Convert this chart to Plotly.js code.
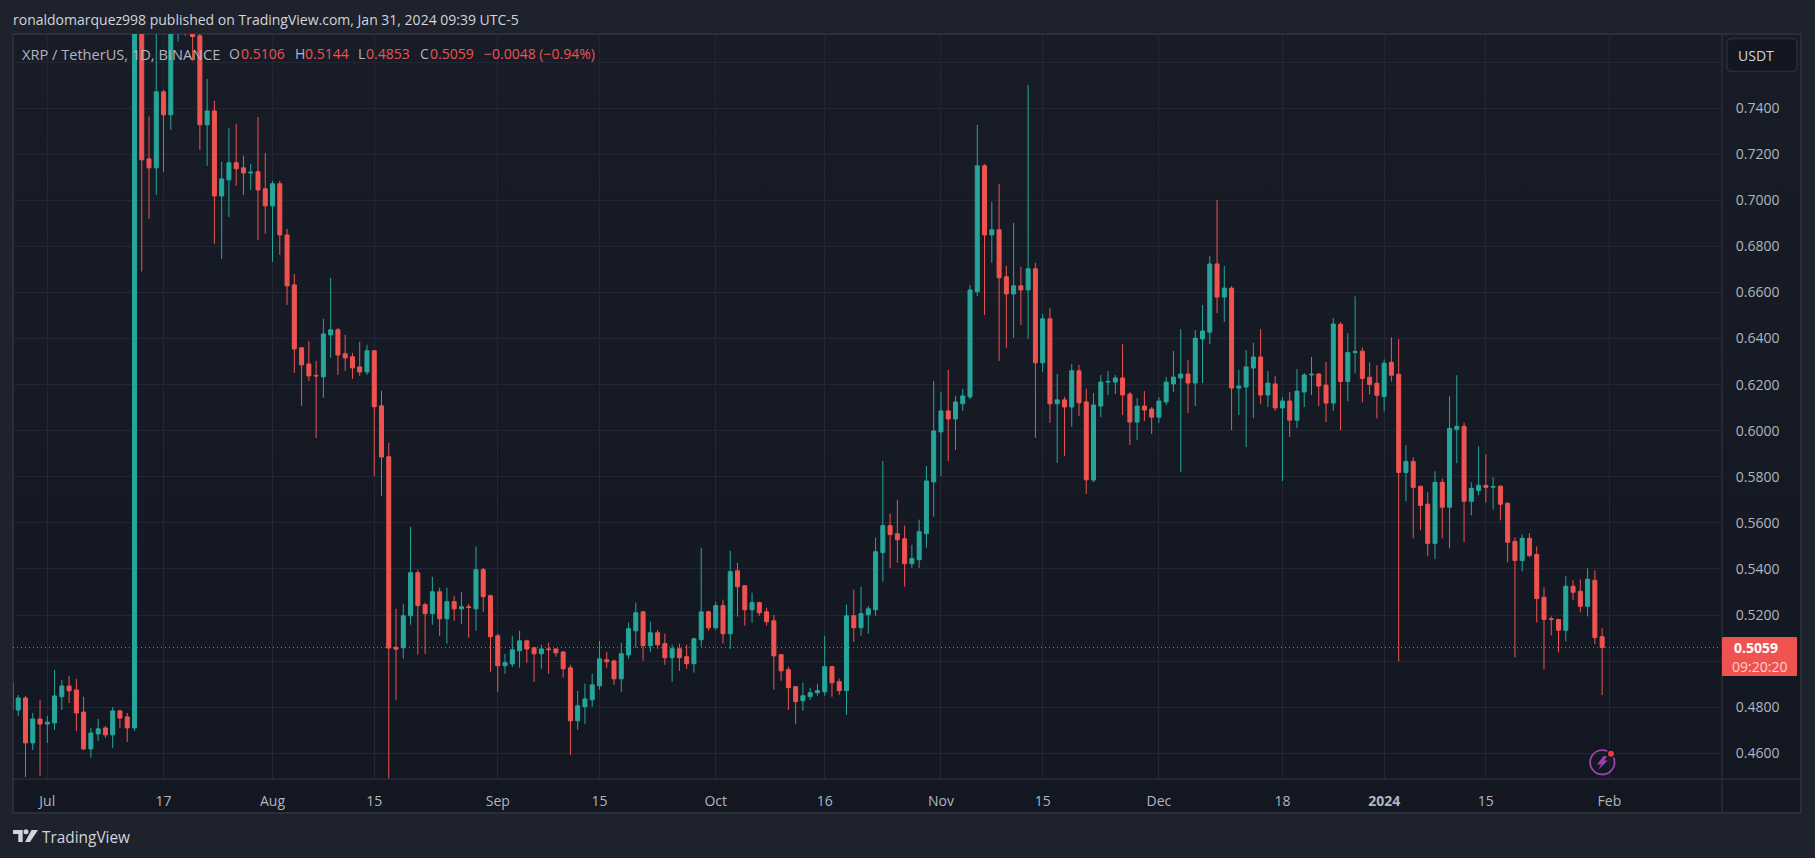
<!DOCTYPE html>
<html>
<head>
<meta charset="utf-8">
<title>XRP / TetherUS</title>
<script src="https://cdn.plot.ly/plotly-3.0.0.min.js"></script>
<style>
html,body{margin:0;padding:0;width:1815px;height:858px;overflow:hidden;background:#1e222d;}
#panel{position:absolute;left:12px;top:33px;width:1790px;height:781px;box-sizing:border-box;border:2px solid #2a2e39;background:linear-gradient(to bottom,#181c27 0%,#131722 100%);}
#chart{position:absolute;left:0;top:0;width:1815px;height:858px;}
</style>
</head>
<body>
<div id="panel"></div>
<div id="chart"></div>
<script>
const firstDate = '2023-06-26';
const opens = [
 .4907,.4788,.4840,.4645,.4749,
 .4727,.4732,.4845,.4892,.4875,.4779,.4619,.4684,.4710,.4680,.4784,.4758,.4710,.8100,.7180,.7141,.7471,.7371,.7900,.8000,.7800,.7714,.7328,.7388,.7019,.7089,.7163,.7141,.7119,.7124,.7050,
 .6976,.7072,.6850,.6633,.6360,.6290,.6240,.6234,.6416,.6438,.6334,.6321,.6277,.6255,.6347,.6108,.5887,.5060,.5058,.5197,.5384,.5245,.5206,.5301,.5184,.5258,.5227,.5236,.5227,.5397,.5284,
 .5110,.4980,.4988,.5045,.5088,.5058,.5032,.5053,.5053,.5040,.4971,.4741,.4802,.4832,.4893,.5006,.5001,.4923,.5027,.5132,.5214,.5067,.5123,.5076,.5015,.5054,.5019,.4989,.5093,.5214,
 .5145,.5241,.5119,.5392,.5327,.5223,.5254,.5214,.5175,.5028,.4963,.4889,.4828,.4846,.4863,.4867,.4976,.4911,.4872,.5197,.5145,.5201,.5223,.5471,.5588,.5553,.5531,.5423,.5440,.5553,.5778,
 .5995,.6086,.6051,.6117,.6147,.6603,.7150,.6850,.6872,.6668,.6594,.6629,.6611,.6703,.6295,.6486,.6117,.6134,.6103,.6260,.6125,.5786,.6107,.6211,.6211,.6229,.6159,.6038,.6107,.6094,
 .6059,.6125,.6203,.6229,.6246,.6207,.6398,.6428,.6724,.6580,.6619,.6185,.6190,.6272,.6320,.6155,.6203,.6099,.6129,.6046,.6168,.6242,.6246,.6198,.6120,.6462,.6214,.6340,.6345,.6232,.6206,
 .6149,.6297,.6245,.5819,.5867,.5759,.5681,.5511,.5776,.5668,.6006,.6019,.5694,.5741,.5763,.5755,.5759,.5685,.5520,.5437,.5533,.5463,.5277,.5184,.5181,.5134,.5325,.5303,.5238,.5351,.5106
];
const highs = [
 .4907,.4853,.4849,.4775,.4832,
 .4762,.4962,.4918,.4936,.4923,.4845,.4710,.4749,.4719,.4801,.4788,.4775,.9300,.8200,.7364,.7800,.7480,.8000,.8200,.8200,.7900,.7800,.7527,.7432,.7167,.7315,.7332,.7193,.7158,.7362,.7206,
 .7085,.7085,.6876,.6681,.6362,.6390,.6303,.6486,.6663,.6446,.6416,.6338,.6386,.6373,.6351,.6173,.5948,.5227,.5249,.5583,.5397,.5254,.5366,.5319,.5319,.5284,.5301,.5249,.5497,.5405,.5288,
 .5119,.5032,.5110,.5132,.5093,.5062,.5071,.5080,.5055,.5042,.4984,.4871,.4902,.4945,.5088,.5040,.5006,.5080,.5167,.5254,.5216,.5171,.5136,.5119,.5071,.5076,.5071,.5102,.5492,.5219,
 .5258,.5267,.5479,.5427,.5329,.5297,.5258,.5232,.5201,.5030,.4976,.4891,.4906,.4885,.4902,.5110,.4980,.4924,.5245,.5310,.5323,.5240,.5536,.5869,.5640,.5700,.5588,.5505,.5614,.5847,.6216,
 .6169,.6264,.6151,.6182,.6633,.7328,.7158,.6993,.7072,.6716,.6902,.6711,.7501,.6729,.6507,.6533,.6247,.6147,.6290,.6286,.6182,.6164,.6242,.6259,.6242,.6376,.6168,.6142,.6172,.6103,
 .6146,.6233,.6346,.6441,.6307,.6437,.6546,.6758,.7001,.6715,.6628,.6263,.6350,.6381,.6441,.6259,.6237,.6146,.6168,.6268,.6250,.6320,.6250,.6298,.6489,.6471,.6423,.6583,.6362,.6297,.6284,
 .6310,.6405,.6397,.5937,.5885,.5762,.5733,.5824,.5793,.6149,.6241,.6036,.5776,.5932,.5898,.5798,.5763,.5689,.5537,.5550,.5555,.5498,.5320,.5194,.5183,.5368,.5351,.5355,.5403,.5394,.5144
];
const lows = [
 .4788,.4762,.4497,.4614,.4502,
 .4645,.4701,.4788,.4818,.4697,.4614,.4580,.4654,.4667,.4623,.4710,.4649,.4697,.6691,.6920,.7024,.7124,.7306,.7689,.7715,.7605,.7219,.7150,.6811,.6746,.6928,.7063,.7024,.7045,.6828,.6855,
 .6733,.6763,.6546,.6251,.6108,.6216,.5969,.6143,.6316,.6242,.6260,.6225,.6238,.6242,.5804,.5718,.4480,.4832,.5010,.5158,.5028,.5032,.5158,.5110,.5076,.5175,.5162,.5102,.5132,.5214,.4954,
 .4867,.4945,.4975,.4971,.4993,.4910,.4967,.4945,.5019,.4928,.4593,.4702,.4728,.4802,.4876,.4971,.4897,.4867,.5010,.5058,.5002,.5040,.5054,.4984,.4911,.4958,.4967,.4950,.5063,.5132,
 .5136,.5076,.5054,.5193,.5154,.5167,.5197,.5154,.4876,.4915,.4789,.4728,.4785,.4832,.4850,.4850,.4845,.4854,.4767,.5084,.5110,.5119,.5197,.5345,.5405,.5427,.5323,.5405,.5405,.5492,.5627,
 .5804,.5869,.5917,.6086,.6138,.6585,.6503,.6729,.6303,.6360,.6403,.6459,.6399,.5969,.6255,.6034,.5860,.5891,.6017,.6064,.5726,.5777,.6059,.6155,.6159,.6068,.5938,.5960,.6042,.5986,
 .6033,.6112,.6168,.5821,.6077,.6107,.6207,.6376,.6511,.6472,.6003,.6068,.5929,.6055,.6116,.6103,.6086,.5782,.5973,.6012,.6103,.6155,.6107,.6038,.6086,.6002,.6128,.6249,.6123,.6158,.6054,
 .6084,.6214,.4999,.5694,.5533,.5568,.5455,.5442,.5533,.5490,.5859,.5516,.5633,.5720,.5689,.5659,.5611,.5429,.5016,.5390,.5450,.5168,.4964,.5112,.5038,.5086,.5264,.5212,.5194,.5073,.4853
];
const closes = [
 .4788,.4840,.4645,.4749,.4727,
 .4735,.4849,.4892,.4871,.4775,.4619,.4688,.4706,.4680,.4784,.4753,.4710,.8100,.7176,.7141,.7471,.7371,.7900,.8000,.7800,.7711,.7328,.7388,.7019,.7093,.7163,.7137,.7119,.7122,.7045,.6976,
 .7072,.6850,.6629,.6355,.6286,.6238,.6238,.6420,.6438,.6329,.6316,.6273,.6255,.6347,.6104,.5886,.5057,.5052,.5197,.5384,.5241,.5206,.5301,.5184,.5258,.5227,.5236,.5233,.5397,.5280,.5106,
 .4980,.4993,.5049,.5088,.5053,.5032,.5053,.5050,.5036,.4967,.4741,.4806,.4836,.4897,.5010,.4997,.4923,.5032,.5141,.5210,.5067,.5123,.5071,.5015,.5054,.5015,.4989,.5097,.5214,.5145,
 .5241,.5119,.5388,.5323,.5223,.5254,.5210,.5171,.5023,.4958,.4885,.4824,.4850,.4863,.4872,.4976,.4906,.4872,.5197,.5145,.5206,.5227,.5475,.5588,.5549,.5527,.5423,.5445,.5562,.5782,.5999,
 .6086,.6051,.6125,.6151,.6611,.7150,.6850,.6872,.6664,.6594,.6629,.6611,.6703,.6295,.6486,.6117,.6134,.6103,.6260,.6121,.5787,.6112,.6211,.6214,.6229,.6155,.6038,.6107,.6090,.6059,
 .6129,.6211,.6233,.6246,.6207,.6402,.6433,.6724,.6580,.6619,.6185,.6194,.6277,.6320,.6155,.6207,.6099,.6129,.6046,.6172,.6242,.6245,.6194,.6120,.6463,.6214,.6340,.6343,.6227,.6201,.6154,
 .6293,.6241,.5819,.5867,.5754,.5676,.5511,.5776,.5668,.6010,.6019,.5694,.5750,.5763,.5754,.5758,.5681,.5516,.5437,.5533,.5459,.5272,.5181,.5181,.5134,.5325,.5299,.5238,.5355,.5103,.5059
];
const dates = opens.map((_, i) => new Date(Date.parse(firstDate + 'T00:00:00Z') + i * 864e5).toISOString().slice(0, 10));

const xTickVals = ['2023-07-01','2023-07-17','2023-08-01','2023-08-15','2023-09-01','2023-09-15','2023-10-01','2023-10-16','2023-11-01','2023-11-15','2023-12-01','2023-12-18','2024-01-01','2024-01-15','2024-02-01'];
const xTickText = ['Jul','17','Aug','15','Sep','15','Oct','16','Nov','15','Dec','18','<b>2024</b>','15','Feb'];
const yTickVals = [0.46,0.48,0.50,0.52,0.54,0.56,0.58,0.60,0.62,0.64,0.66,0.68,0.70,0.72,0.74,0.76];
const yTickText = ['0.4600','0.4800','','0.5200','0.5400','0.5600','0.5800','0.6000','0.6200','0.6400','0.6600','0.6800','0.7000','0.7200','0.7400',''];
const lastClose = 0.5059;

const UP = '#26a69a', DOWN = '#ef5350', GRID = '#232733', EDGE = '#2a2e39', TXT = '#b2b5be', FONT = '"Open Sans", sans-serif';
const L = 13, T = 34, R = 1722, B = 779, W = 1815, H = 858;
const PX = x => (x - L) / (R - L), PY = y => 1 - (y - T) / (B - T);
const note = (x, y, text, color, size, anchor) => ({xref:'paper', yref:'paper', x:PX(x - 2.5), y:PY(y), text, showarrow:false, xanchor:anchor||'left', yanchor:'middle', font:{family:FONT, size:size||14, color:color||TXT}});
const red = '#ef5350';
const annotations = [
  note(13, 20, 'ronaldomarquez998 published on TradingView.com, Jan 31, 2024 09:39 UTC-5', '#d1d4dc', 14),
  note(22.5, 54, 'XRP / TetherUS, 1D, BINANCE', TXT, 14.6),
  note(229, 54, 'O', TXT), note(241.6, 54, '0.5106', red),
  note(295, 54, 'H', TXT), note(305.3, 54, '0.5144', red),
  note(358, 54, 'L', TXT), note(366.6, 54, '0.4853', red),
  note(420, 54, 'C', TXT), note(430, 54, '0.5059', red),
  note(484.5, 54, '\u22120.0048 (\u22120.94%)', red),
  note(1738, 55, 'USDT', '#d1d4dc', 14),
  note(1734, 647.5, '<b>0.5059</b>', '#ffffff', 14),
  note(1732, 666, '09:20:20', '#fcd0cf', 14),
  note(42, 837, 'TradingView', '#d1d4dc', 15.4)
];
const pathOf = pts => 'M' + pts.map(p => PX(p[0]) + ',' + PY(p[1])).join('L') + 'Z';
const rrect = (x0, y0, x1, y1, r) => {
  const a = (x, y) => PX(x) + ',' + PY(y);
  const q = (cx, cy, x, y) => 'Q' + a(cx, cy) + ' ' + a(x, y);
  return 'M' + a(x0 + r, y0) + 'L' + a(x1 - r, y0) + q(x1, y0, x1, y0 + r) + 'L' + a(x1, y1 - r) + q(x1, y1, x1 - r, y1) + 'L' + a(x0 + r, y1) + q(x0, y1, x0, y1 - r) + 'L' + a(x0, y0 + r) + q(x0, y0, x0 + r, y0) + 'Z';
};
const pshape = (path, fill, lineColor, lw) => ({type:'path', xref:'paper', yref:'paper', path, fillcolor:fill||'rgba(0,0,0,0)', line:{color:lineColor||'rgba(0,0,0,0)', width:lw||0}, layer:'above'});
const circle = (cx, cy, r, fill, lineColor, lw) => ({type:'circle', xref:'paper', yref:'paper', x0:PX(cx - r), x1:PX(cx + r), y0:PY(cy + r), y1:PY(cy - r), fillcolor:fill, line:{color:lineColor||'rgba(0,0,0,0)', width:lw||0}, layer:'above'});
const hline = (x0, x1, y) => ({type:'line', xref:'paper', yref:'paper', x0:PX(x0), x1:PX(x1), y0:PY(y), y1:PY(y), line:{color:EDGE, width:1.5}, layer:'above'});
const vline = (x, y0, y1) => ({type:'line', xref:'paper', yref:'paper', x0:PX(x), x1:PX(x), y0:PY(y0), y1:PY(y1), line:{color:EDGE, width:1.5}, layer:'above'});
const shapes = [
  {type:'line', xref:'paper', yref:'y', x0:0, x1:1, y0:lastClose, y1:lastClose, line:{color:DOWN, width:1, dash:'1px 3px'}, layer:'above'},
  hline(13, 1802, B), vline(R, T, 814),
  pshape(rrect(1722, 637, 1797, 676, 1), DOWN),
  pshape(rrect(1727, 38.5, 1797, 71.5, 5), '#131722', EDGE, 1.5),
  pshape(pathOf([[13,830],[22.7,830],[22.7,842],[18.3,842],[18.3,834],[13,834]]), '#d1d4dc'),
  circle(26, 831.8, 2.5, '#d1d4dc'),
  pshape(pathOf([[31.5,830],[38,830],[30,842],[25,842]]), '#d1d4dc'),
  circle(1602.3, 762.3, 12.2, 'rgba(0,0,0,0)', '#9c3fb0', 1.8),
  pshape(pathOf([[1603.5,756],[1607,756],[1604.5,760.5],[1608,760.5],[1598.5,769.5],[1601,764.5],[1597,764.5]]), '#9c3fb0'),
  circle(1611, 753.7, 4.5, '#131722'),
  circle(1611, 753.7, 3, '#f23645')
];

Plotly.newPlot('chart', [{
  type:'candlestick', x:dates, open:opens, high:highs, low:lows, close:closes,
  increasing:{line:{color:UP, width:1}, fillcolor:UP},
  decreasing:{line:{color:DOWN, width:1}, fillcolor:DOWN},
  whiskerwidth:0, hoverinfo:'skip', showlegend:false
}], {
  width:W, height:H,
  margin:{l:L, r:W - R, t:T, b:H - B, pad:0},
  paper_bgcolor:'rgba(0,0,0,0)', plot_bgcolor:'rgba(0,0,0,0)',
  showlegend:false, hovermode:false,
  boxgap:0.45, boxgroupgap:0,
  font:{family:FONT, color:TXT, size:14},
  xaxis:{type:'date', range:['2023-06-26 06:43','2024-02-16 12:00'], rangeslider:{visible:false},
    tickmode:'array', tickvals:xTickVals, ticktext:xTickText, showgrid:true, gridcolor:GRID, gridwidth:1, zeroline:false,
    showline:false, ticks:'outside', ticklen:9, tickcolor:'rgba(0,0,0,0)', tickfont:{family:FONT, size:14, color:TXT}, fixedrange:true},
  yaxis:{range:[0.44884,0.7722], side:'right', tickmode:'array', tickvals:yTickVals, ticktext:yTickText, showgrid:true, gridcolor:GRID, gridwidth:1, zeroline:false,
    showline:false, ticks:'outside', ticklen:10, tickcolor:'rgba(0,0,0,0)', tickfont:{family:FONT, size:14, color:TXT}, fixedrange:true},
  annotations, shapes
}, {displayModeBar:false, staticPlot:true});
</script>
</body>
</html>
